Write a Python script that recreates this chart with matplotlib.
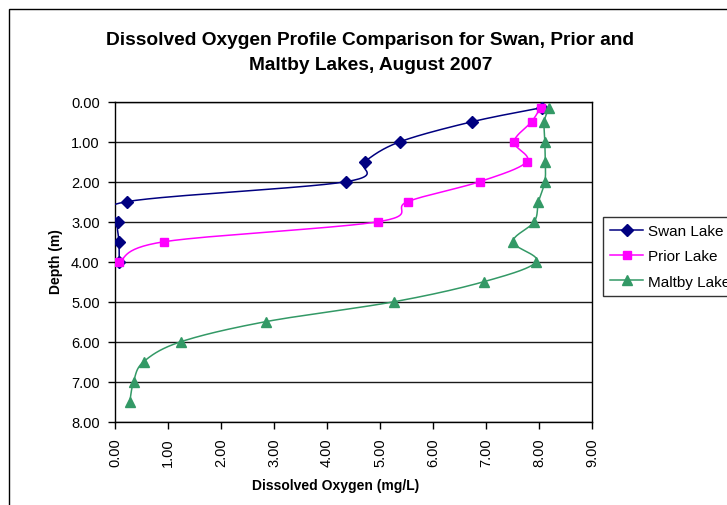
import numpy as np
import matplotlib
matplotlib.use("Agg")
import matplotlib.pyplot as plt
from matplotlib.patches import Rectangle

plt.rcParams['font.family'] = ['Liberation Sans', 'DejaVu Sans']

title_lines = ["Dissolved Oxygen Profile Comparison for Swan, Prior and",
               "Maltby Lakes, August 2007"]
x_label = "Dissolved Oxygen (mg/L)"
y_label = "Depth (m)"

swan_depth = [0.15, 0.5, 1.0, 1.5, 2.0, 2.5, 3.0, 3.5, 4.0]
swan_do = [8.05, 6.74, 5.38, 4.71, 4.36, 0.22, 0.05, 0.075, 0.08]

prior_depth = [0.15, 0.5, 1.0, 1.5, 2.0, 2.5, 3.0, 3.5, 4.0]
prior_do = [8.03, 7.86, 7.53, 7.77, 6.88, 5.52, 4.97, 0.93, 0.08]

maltby_depth = [0.15, 0.5, 1.0, 1.5, 2.0, 2.5, 3.0, 3.5, 4.0, 4.5, 5.0,
                5.5, 6.0, 6.5, 7.0, 7.5]
maltby_do = [8.19, 8.10, 8.11, 8.12, 8.11, 7.99, 7.91, 7.51, 7.95, 6.96, 5.27,
             2.84, 1.245, 0.54, 0.35, 0.28]

x_ticks = [0, 1, 2, 3, 4, 5, 6, 7, 8, 9]
y_ticks = [0, 1, 2, 3, 4, 5, 6, 7, 8]


def smooth(xs, ys, n=30):
    """Excel-style smoothed line (Catmull-Rom Bezier through points)."""
    p = np.column_stack([xs, ys]).astype(float)
    out = [p[0]]
    m = len(p)
    t = np.linspace(0, 1, n)[1:, None]
    for i in range(m - 1):
        p0 = p[i - 1] if i > 0 else p[i]
        p1 = p[i]
        p2 = p[i + 1]
        p3 = p[i + 2] if i + 2 < m else p[i + 1]
        c1 = p1 + (p2 - p0) / 6.0
        c2 = p2 - (p3 - p1) / 6.0
        seg = ((1 - t) ** 3) * p1 + 3 * ((1 - t) ** 2) * t * c1 + \
              3 * (1 - t) * t ** 2 * c2 + t ** 3 * p2
        out.extend(seg)
    out = np.array(out)
    return out[:, 0], out[:, 1]


W, H = 727, 506
fig = plt.figure(figsize=(W / 100, H / 100), dpi=100)
ax = fig.add_axes([115 / W, 1 - 422.7 / H, 477 / W, 320 / H])

series = [
    ("Swan Lake", swan_do, swan_depth, '#000080', 'D', 6),
    ("Prior Lake", prior_do, prior_depth, '#FF00FF', 's', 5.5),
    ("Maltby Lake", maltby_do, maltby_depth, '#339966', '^', 7),
]
for name, xs, ys, col, mk, ms in series:
    sx, sy = smooth(xs, ys)
    ax.plot(sx, sy, color=col, lw=1.1, zorder=3)
    ax.plot(xs, ys, linestyle='none', marker=mk, ms=ms, color=col,
            markeredgecolor=col, zorder=4)
    ax.plot([], [], color=col, lw=1.1, marker=mk, ms=ms, label=name)

ax.set_xlim(0, 9)
ax.set_ylim(8, 0)
ax.set_xticks(x_ticks)
ax.set_yticks(y_ticks)
ax.set_xticklabels([f"{v:.2f}" for v in x_ticks], rotation=90)
ax.set_yticklabels([f"{v:.2f}" for v in y_ticks])
ax.tick_params(axis='both', direction='out', length=5, width=1,
               color='black', labelsize=10.5, pad=6)
ax.yaxis.grid(True, color='#1a1a1a', lw=1.0)
ax.set_axisbelow(True)
for s in ax.spines.values():
    s.set_color('black')
    s.set_linewidth(1.0)

fig.text(56 / W, 1 - 262 / H, y_label, rotation=90, ha='center', va='center',
         fontsize=10, fontweight='bold')
fig.text(336 / W, 1 - 486 / H, x_label, ha='center', va='center',
         fontsize=10, fontweight='bold')

fig.text(370 / W, 1 - 45 / H, title_lines[0], ha='center', va='baseline',
         fontsize=13.8, fontweight='bold')
fig.text(371 / W, 1 - 70 / H, title_lines[1], ha='center', va='baseline',
         fontsize=13.8, fontweight='bold')

leg = fig.legend(loc='upper left', bbox_to_anchor=(603 / W, 1 - 218 / H),
                 bbox_transform=fig.transFigure, fontsize=11, frameon=True,
                 fancybox=False, edgecolor='black', handlelength=2.2,
                 handletextpad=0.3, labelspacing=0.75, borderpad=0.45,
                 borderaxespad=0)
leg.get_frame().set_linewidth(1.0)

fig.add_artist(Rectangle((8.5 / W, -0.1), 2.0, (1 - 10 / H) + 0.1,
                         transform=fig.transFigure, fill=False,
                         edgecolor='black', lw=1.0))

fig.savefig("out.png", dpi=100)
